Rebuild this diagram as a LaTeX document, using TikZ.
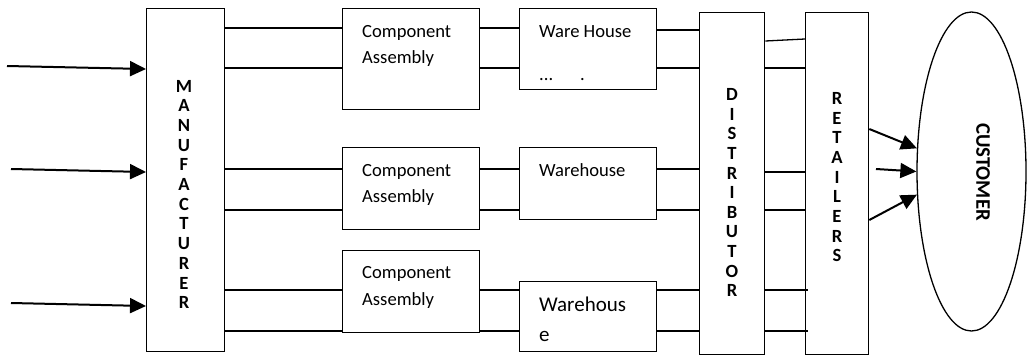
\documentclass[tikz,border=0pt]{standalone}
\usepackage{fontspec}
\setmainfont{Carlito}
\usetikzlibrary{arrows.meta,shapes.geometric,calc}
\begin{document}
\begin{tikzpicture}[x=1pt,y=-1pt,
  box/.style={draw,line width=1.3pt,inner sep=0pt,anchor=north west},
  link/.style={line width=1.3pt},
  arr/.style={line width=2pt,-{Triangle[length=16pt,width=15pt]}},
  lbl/.style={font=\fontsize{18.6}{22}\selectfont,anchor=base west,inner sep=0pt},
  biglbl/.style={font=\fontsize{21}{24}\selectfont,anchor=base west,inner sep=0pt},
  vl/.style={font=\fontsize{18.6}{20}\selectfont\bfseries,anchor=base,inner sep=0pt}]
\useasboundingbox (0,0) rectangle (1027,356);
% boxes
\node[box,minimum width=78pt,minimum height=343pt] (man) at (146,8) {};
\node[box,minimum width=137pt,minimum height=101pt] (c1) at (342,8) {};
\node[box,minimum width=137pt,minimum height=82pt] (c2) at (342,147) {};
\node[box,minimum width=137pt,minimum height=82pt] (c3) at (342,250) {};
\node[box,minimum width=137pt,minimum height=81pt] (w1) at (519,8) {};
\node[box,minimum width=137pt,minimum height=72pt] (w2) at (519,147) {};
\node[box,minimum width=137pt,minimum height=70pt] (w3) at (519,281) {};
\node[box,minimum width=65pt,minimum height=342pt] (dist) at (699,12) {};
\node[box,minimum width=63pt,minimum height=342pt] (ret) at (805,12) {};
\node[draw,ellipse,line width=1.3pt,inner sep=0pt,minimum width=109pt,minimum height=319pt] (cust) at (971.5,171.5) {};
% texts
\node[lbl] (t1a) at (362,37) {Component};
\node[lbl] (t1b) at (362,63) {Assembly};
\node[lbl] (t2a) at (362,176) {Component};
\node[lbl] (t2b) at (362,202) {Assembly};
\node[lbl] (t3a) at (362,278) {Component};
\node[lbl] (t3b) at (362,305) {Assembly};
\node[lbl] (u1) at (539,37) {Ware House};
\node[lbl] (u1d) at (539,80) {...};
\node[lbl] (u1e) at (580,80) {.};
\node[lbl] (u2) at (539,176) {Warehouse};
\node[biglbl] (u3a) at (539,311) {Warehous};
\node[biglbl] (u3b) at (539,341) {e};
\foreach \l [count=\i from 0] in {M,A,N,U,F,A,C,T,U,R,E,R}
  \node[vl] (m\i) at (184,{92+19.7*\i}) {\l};
\foreach \l [count=\i from 0] in {D,I,S,T,R,I,B,U,T,O,R}
  \node[vl] (d\i) at (732,{100.7+19.6*\i}) {\l};
\foreach \l [count=\i from 0] in {R,E,T,A,I,L,E,R,S}
  \node[vl] (r\i) at (837,{104.3+19.7*\i}) {\l};
\node[font=\fontsize{20.7}{24}\selectfont\bfseries,rotate=-90,inner sep=0pt] (ct) at (983,172) {CUSTOMER};
% links manufacturer -> component
\foreach \y/\c in {28/c1,68/c1,169/c2,210/c2,290/c3,331/c3}
  \draw[link] (man.east |- 0,\y) -- (\c.west |- 0,\y);
% component -> warehouse
\foreach \y/\c/\w in {28/c1/w1,68/c1/w1,169/c2/w2,210/c2/w2,290/c3/w3,331/c3/w3}
  \draw[link] (\c.east |- 0,\y) -- (\w.west |- 0,\y);
% warehouse -> distributor
\foreach \y/\w in {30/w1,68/w1,169/w2,210/w2,290/w3,331/w3}
  \draw[link] (\w.east |- 0,\y) -- (dist.west |- 0,\y);
% distributor -> retailers
\draw[link] (dist.east |- 0,41) -- (ret.west |- 0,39);
\foreach \y in {68,172,210}
  \draw[link] (dist.east |- 0,\y) -- (ret.west |- 0,\y);
\foreach \y in {290,331}
  \draw[link] (dist.east |- 0,\y) -- ($(ret.west |- 0,\y)+(3,0)$);
% input arrows
\coordinate (s1) at (7,66);
\coordinate (s2) at (11,169);
\coordinate (s3) at (11,303);
\draw[arr] (s1) -- (man.west |- 0,69);
\draw[arr] (s2) -- (man.west |- 0,172);
\draw[arr] (s3) -- (man.west |- 0,306);
% arrows to customer
\coordinate (q2) at (876,169);
\draw[arr] (ret.east |- 0,129) -- (cust.157);
\draw[arr] (q2) -- (cust.west);
\draw[arr] (ret.east |- 0,220) -- (cust.203);
\end{tikzpicture}
\end{document}
